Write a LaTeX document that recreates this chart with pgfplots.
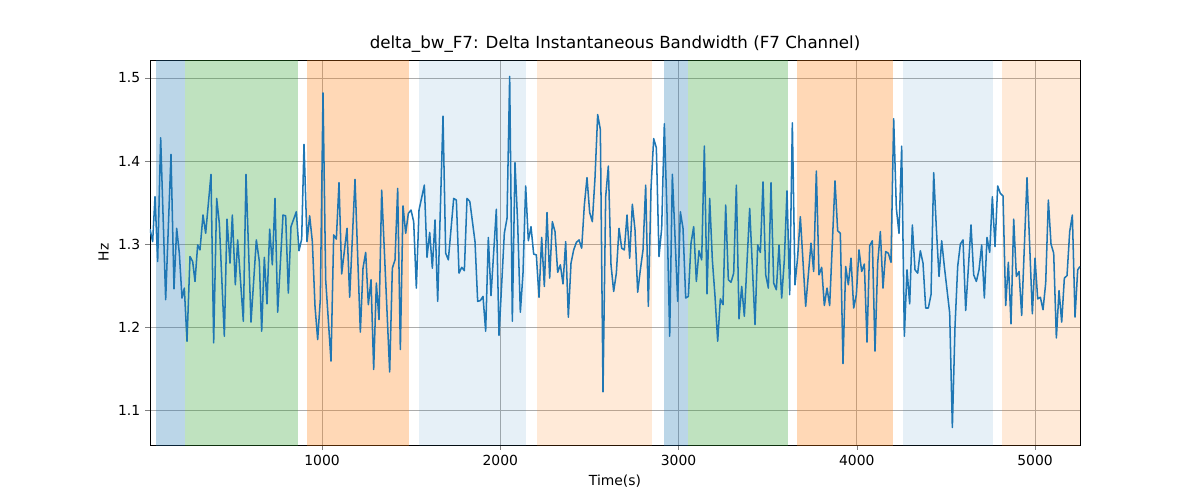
\documentclass[border=0pt]{standalone}
\usepackage{pgfplots}
\pgfplotsset{compat=1.18}
\usepackage{pgfplotstable}
\usepackage{fontspec}
\setmainfont{DejaVu Sans}
\definecolor{cb}{HTML}{1F77B4}
\definecolor{cg}{HTML}{2CA02C}
\definecolor{co}{HTML}{FF7F0E}
\pgfplotstableread{
zx y
0 1.318
8 1.303
15 1.357
23 1.279
32 1.428
47 1.233
63 1.408
72 1.246
80 1.319
88 1.289
96 1.235
103 1.247
111 1.183
120 1.285
128 1.279
135 1.255
143 1.299
150 1.293
159 1.335
167 1.313
183 1.384
191 1.181
200 1.355
208 1.325
223 1.189
231 1.330
240 1.277
247 1.335
256 1.251
263 1.305
280 1.207
288 1.384
303 1.206
319 1.305
328 1.279
335 1.195
343 1.284
351 1.228
359 1.318
367 1.275
375 1.355
383 1.218
399 1.335
407 1.334
415 1.241
423 1.321
439 1.339
447 1.292
455 1.306
462 1.420
471 1.303
479 1.334
487 1.303
495 1.225
503 1.185
511 1.234
519 1.482
527 1.257
543 1.159
551 1.311
559 1.306
567 1.374
575 1.264
591 1.319
599 1.236
615 1.378
631 1.194
639 1.271
647 1.290
655 1.227
663 1.257
671 1.149
679 1.253
687 1.209
695 1.365
719 1.146
727 1.271
735 1.281
743 1.367
751 1.173
759 1.346
767 1.313
775 1.337
783 1.341
791 1.327
799 1.247
807 1.341
823 1.371
831 1.284
839 1.314
847 1.271
855 1.329
863 1.231
879 1.454
887 1.289
895 1.281
911 1.355
919 1.353
927 1.265
935 1.272
943 1.268
951 1.355
960 1.351
}\tA
\pgfplotstableread{
zx y
29.6 1.351
45 1.303
53 1.231
61 1.232
69 1.237
77 1.195
85 1.308
93 1.238
109 1.342
117 1.190
133 1.313
141 1.331
149 1.502
157 1.207
165 1.398
173 1.325
181 1.218
189 1.265
197 1.370
205 1.304
213 1.321
221 1.288
229 1.287
237 1.236
245 1.308
253 1.249
261 1.338
269 1.259
277 1.327
285 1.315
293 1.266
301 1.275
309 1.252
317 1.303
325 1.212
333 1.277
341 1.293
349 1.302
357 1.305
365 1.295
373 1.347
381 1.380
389 1.338
397 1.327
405 1.380
413 1.456
421 1.438
429 1.122
437 1.357
445 1.394
453 1.275
461 1.243
469 1.265
477 1.319
485 1.295
493 1.293
501 1.335
509 1.283
517 1.348
525 1.317
533 1.242
541 1.269
549 1.293
557 1.371
565 1.225
573 1.367
581 1.427
589 1.416
597 1.285
605 1.319
613 1.445
621 1.337
629 1.189
637 1.384
645 1.309
653 1.231
661 1.339
669 1.319
677 1.235
685 1.237
693 1.301
701 1.321
709 1.255
717 1.292
725 1.281
733 1.418
741 1.240
749 1.355
757 1.281
765 1.237
773 1.183
781 1.234
789 1.227
797 1.347
805 1.257
813 1.254
821 1.265
829 1.371
837 1.210
845 1.249
853 1.213
869 1.343
885 1.203
893 1.299
901 1.290
909 1.375
917 1.263
925 1.247
933 1.374
941 1.253
949 1.245
957 1.299
}\tB
\pgfplotstableread{
zx y
27 1.299
35 1.235
43 1.281
51 1.364
59 1.239
67 1.446
75 1.251
83 1.285
91 1.333
107 1.225
123 1.301
131 1.267
139 1.388
147 1.263
155 1.272
163 1.226
171 1.247
179 1.226
195 1.376
203 1.316
211 1.313
219 1.156
227 1.273
235 1.251
243 1.283
251 1.223
259 1.239
267 1.293
275 1.267
283 1.276
291 1.182
299 1.298
307 1.304
315 1.171
323 1.277
331 1.315
339 1.247
347 1.291
355 1.289
363 1.278
371 1.451
379 1.343
387 1.313
395 1.418
403 1.189
411 1.269
419 1.228
427 1.323
435 1.269
443 1.265
451 1.292
459 1.277
467 1.223
475 1.223
483 1.239
491 1.386
499 1.319
507 1.261
515 1.304
523 1.273
531 1.245
539 1.217
547 1.079
555 1.201
563 1.273
571 1.300
579 1.305
587 1.220
595 1.271
603 1.323
611 1.263
619 1.255
627 1.269
635 1.299
643 1.235
651 1.308
659 1.290
667 1.357
675 1.297
683 1.370
691 1.361
699 1.358
707 1.226
715 1.278
723 1.204
731 1.330
739 1.261
747 1.267
755 1.214
771 1.380
787 1.216
795 1.283
803 1.234
811 1.236
819 1.221
827 1.253
835 1.353
843 1.300
851 1.289
859 1.187
867 1.244
875 1.206
883 1.259
891 1.262
899 1.315
907 1.335
915 1.212
923 1.269
930 1.273
}\tC
\begin{document}
\begin{tikzpicture}
\useasboundingbox (-108pt,-39.6pt) rectangle (756pt,320.4pt);
\begin{axis}[
  at={(0,0)}, anchor=south west,
  width=669.6pt, height=277.2pt, scale only axis,
  xmin=35, xmax=5252, ymin=1.058, ymax=1.5217,
  xtick={1000,2000,3000,4000,5000},
  ytick={1.1,1.2,1.3,1.4,1.5},
  xticklabel style={/pgf/number format/1000 sep={}},
  yticklabel style={/pgf/number format/fixed,/pgf/number format/precision=1,/pgf/number format/fixed zerofill},
  /pgf/number format/assume math mode=true,
  grid=major, major grid style={gray!65, line width=0.6pt},
  tick label style={font=\fontsize{10}{12}\selectfont},
  label style={font=\fontsize{10}{12}\selectfont},
  xlabel={Time(s)}, ylabel={Hz},
  title={delta\_bw\_F7: Delta Instantaneous Bandwidth (F7 Channel)},
  title style={font=\fontsize{12}{14}\selectfont, yshift=-4pt},
  tick align=outside, major tick length=3.5pt,
  xtick pos=bottom, ytick pos=left,
  clip=true,
]
\fill[cb, fill opacity=0.3] (axis cs:69,1.0) rectangle (axis cs:231,1.6);
\fill[cg, fill opacity=0.3] (axis cs:231,1.0) rectangle (axis cs:865,1.6);
\fill[co, fill opacity=0.3] (axis cs:916,1.0) rectangle (axis cs:1488,1.6);
\fill[cb, fill opacity=0.11] (axis cs:1544,1.0) rectangle (axis cs:2144,1.6);
\fill[co, fill opacity=0.16] (axis cs:2206,1.0) rectangle (axis cs:2851,1.6);
\fill[cb, fill opacity=0.3] (axis cs:2918,1.0) rectangle (axis cs:3053,1.6);
\fill[cg, fill opacity=0.3] (axis cs:3053,1.0) rectangle (axis cs:3614,1.6);
\fill[co, fill opacity=0.3] (axis cs:3665,1.0) rectangle (axis cs:4203,1.6);
\fill[cb, fill opacity=0.11] (axis cs:4259,1.0) rectangle (axis cs:4764,1.6);
\fill[co, fill opacity=0.16] (axis cs:4815,1.0) rectangle (axis cs:5252,1.6);
\addplot[cb, line width=1.1pt, line join=round] table[x expr=35+1.87*\thisrow{zx}, y=y] {\tA};
\addplot[cb, line width=1.1pt, line join=round] table[x expr=1774+1.87*\thisrow{zx}, y=y] {\tB};
\addplot[cb, line width=1.1pt, line join=round] table[x expr=3513+1.87*\thisrow{zx}, y=y] {\tC};
\end{axis}
\end{tikzpicture}
\end{document}
